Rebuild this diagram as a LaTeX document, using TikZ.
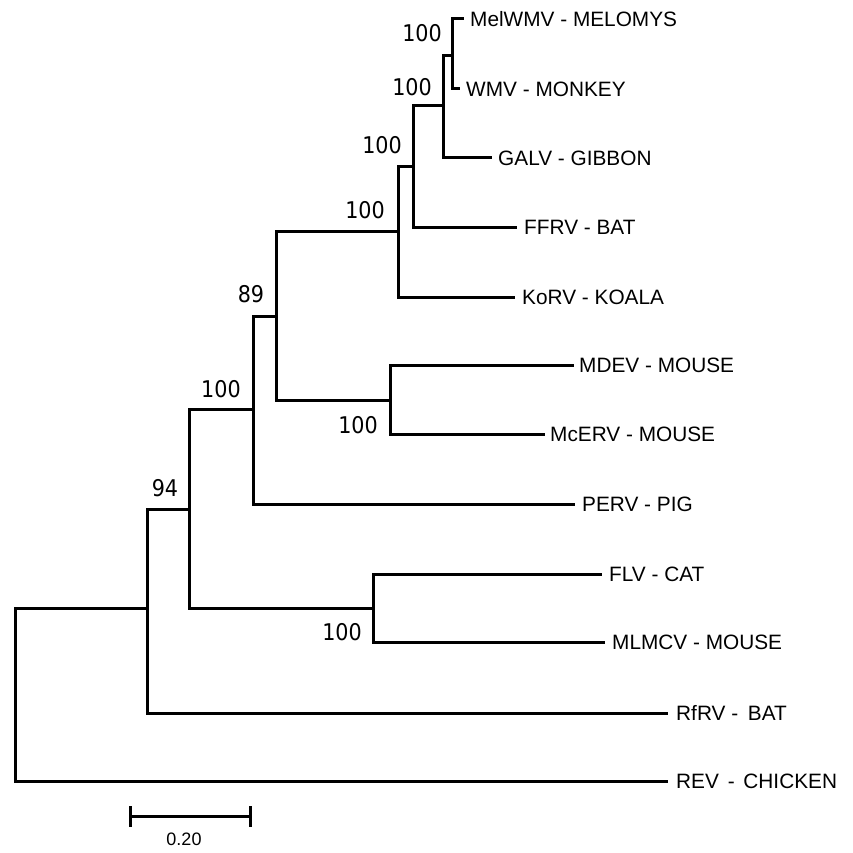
\documentclass[tikz,border=0pt]{standalone}
\usepackage{fontspec}
\setmainfont{Liberation Sans}
\newfontfamily\bsfont[FakeStretch=0.9]{DejaVu Sans}
\begin{document}
\begin{tikzpicture}[x=1pt,y=-1pt,
  branch/.style={line width=3pt, line cap=rect, line join=miter},
  tick/.style={line width=3pt, line cap=butt},
  taxon/.style={anchor=west, inner sep=0pt, font=\fontsize{20.8}{24}\selectfont, text height=14.9pt, text depth=0pt},
  boot/.style={inner sep=0pt, font=\bsfont\fontsize{23}{26}\selectfont},
  scalelabel/.style={inner sep=0pt, font=\fontsize{18}{20}\selectfont}]
\useasboundingbox (0,0) rectangle (852,853);

% internal nodes
\coordinate (nR) at (15,694);
\coordinate (n147) at (147,608);
\coordinate (n189) at (189,509);
\coordinate (n253) at (253,409);
\coordinate (n373) at (373,608);
\coordinate (n276) at (276,316);
\coordinate (n390) at (390,400);
\coordinate (n398) at (398,231);
\coordinate (n413) at (413,167);
\coordinate (n443) at (443,106);
\coordinate (n452) at (452,56);

% leaves
\coordinate (lMel) at (462,19);
\coordinate (lWMV) at (458,89);
\coordinate (lGALV) at (490,158);
\coordinate (lFFRV) at (515,227);
\coordinate (lKoRV) at (513,297);
\coordinate (lMDEV) at (572,365);
\coordinate (lMcERV) at (543,434);
\coordinate (lPERV) at (573,504);
\coordinate (lFLV) at (600,574);
\coordinate (lMLMCV) at (603,642);
\coordinate (lRfRV) at (666,713);
\coordinate (lREV) at (666,781);

% branches
\draw[branch] (nR) |- (n147);
\draw[branch] (nR) |- (lREV);
\draw[branch] (n147) |- (n189);
\draw[branch] (n147) |- (lRfRV);
\draw[branch] (n189) |- (n253);
\draw[branch] (n189) |- (n373);
\draw[branch] (n373) |- (lFLV);
\draw[branch] (n373) |- (lMLMCV);
\draw[branch] (n253) |- (n276);
\draw[branch] (n253) |- (lPERV);
\draw[branch] (n276) |- (n398);
\draw[branch] (n276) |- (n390);
\draw[branch] (n390) |- (lMDEV);
\draw[branch] (n390) |- (lMcERV);
\draw[branch] (n398) |- (n413);
\draw[branch] (n398) |- (lKoRV);
\draw[branch] (n413) |- (n443);
\draw[branch] (n413) |- (lFFRV);
\draw[branch] (n443) |- (n452);
\draw[branch] (n443) |- (lGALV);
\draw[branch] (n452) |- (lMel);
\draw[branch] (n452) |- (lWMV);

% taxon labels
\node[taxon] (tMel) at ([xshift=8pt]lMel) {MelWMV - MELOMYS};
\node[taxon] (tWMV) at ([xshift=8pt]lWMV) {WMV - MONKEY};
\node[taxon] (tGALV) at ([xshift=8pt]lGALV) {GALV - GIBBON};
\node[taxon] (tFFRV) at ([xshift=9pt]lFFRV) {FFRV - BAT};
\node[taxon] (tKoRV) at ([xshift=9pt]lKoRV) {KoRV - KOALA};
\node[taxon] (tMDEV) at ([xshift=7pt]lMDEV) {MDEV - MOUSE};
\node[taxon] (tMcERV) at ([xshift=7pt]lMcERV) {McERV - MOUSE};
\node[taxon] (tPERV) at ([xshift=9pt]lPERV) {PERV - PIG};
\node[taxon] (tFLV) at ([xshift=9pt]lFLV) {FLV - CAT};
\node[taxon] (tMLMCV) at ([xshift=9pt]lMLMCV) {MLMCV - MOUSE};
\node[taxon] (tRfRV) at ([xshift=10pt]lRfRV) {RfRV - \hspace{4pt}BAT};
\node[taxon] (tREV) at ([xshift=10pt]lREV) {REV\hspace{3pt} - \hspace{3pt}CHICKEN};

% bootstrap values
\node[boot] (b1) at (422,33.5) {100};
\node[boot] (b2) at (412,87) {100};
\node[boot] (b3) at (382,145.5) {100};
\node[boot] (b4) at (365,210) {100};
\node[boot] (b5) at (251,294) {89};
\node[boot] (b6) at (358,425) {100};
\node[boot] (b7) at (221,389) {100};
\node[boot] (b8) at (165,488) {94};
\node[boot] (b9) at (342,632) {100};

% scale bar
\coordinate (sL) at (130,816);
\coordinate (sR) at (250,816);
\coordinate (sLt) at (130,806);
\coordinate (sLb) at (130,827);
\coordinate (sRt) at (250,806);
\coordinate (sRb) at (250,827);
\draw[tick] (sL) -- (sR);
\draw[tick] (sLt) -- (sLb);
\draw[tick] (sRt) -- (sRb);
\node[scalelabel] (sText) at (184,839.5) {0.20};
\end{tikzpicture}
\end{document}
